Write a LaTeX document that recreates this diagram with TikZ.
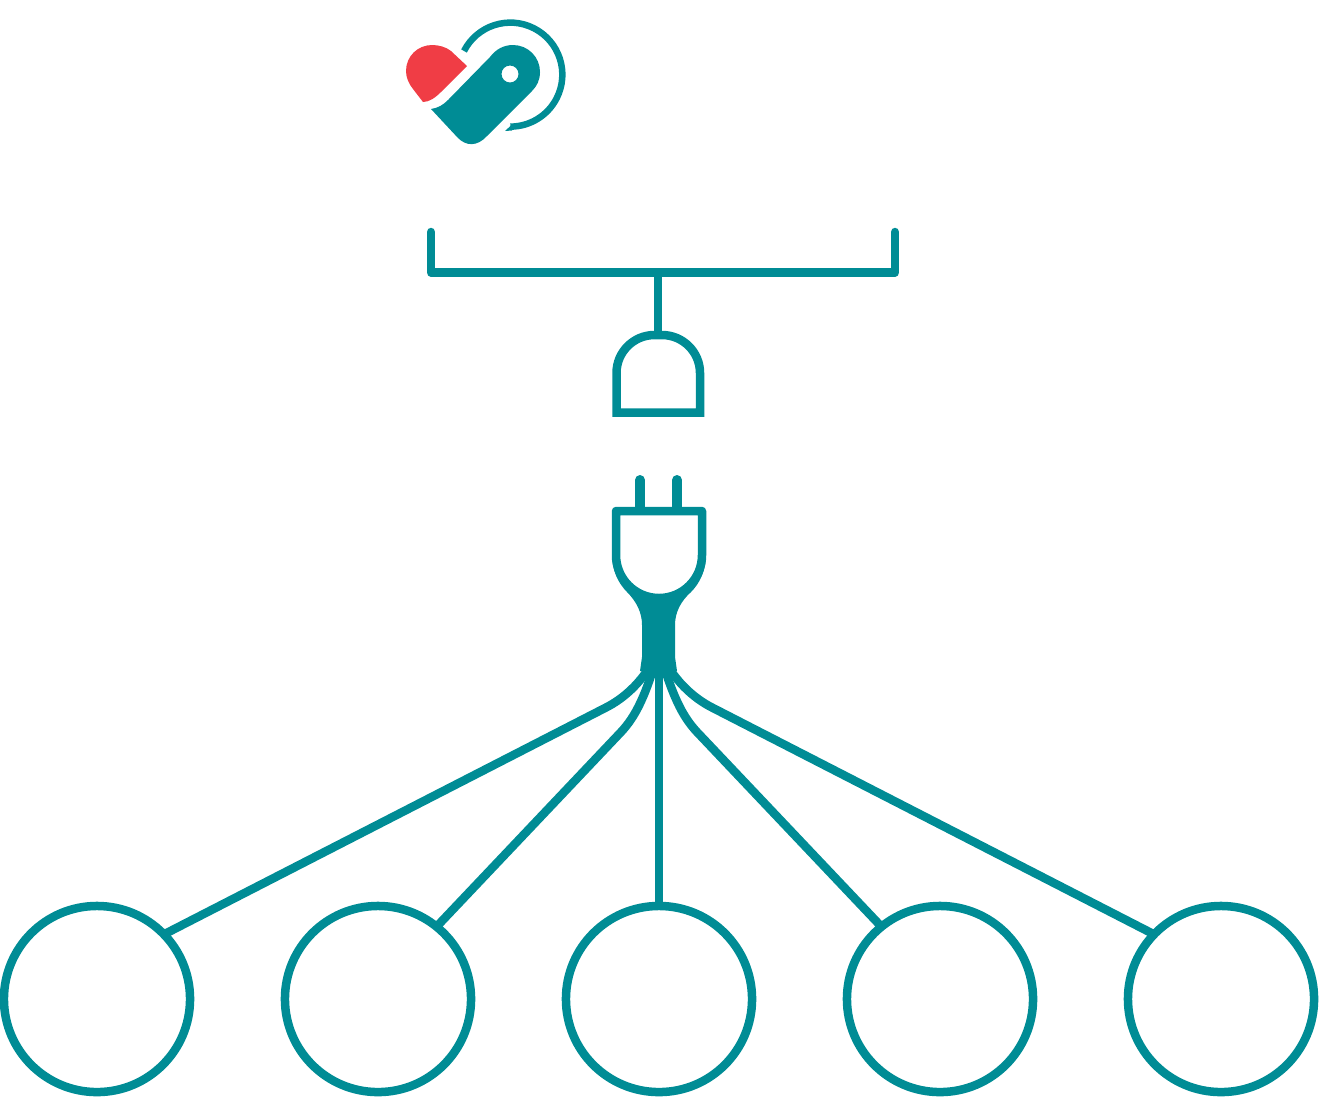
\documentclass[tikz,border=0pt]{standalone}
\definecolor{tealline}{HTML}{008C95}
\definecolor{heartred}{HTML}{F03D45}
\tikzset{
  outline/.style={line width=0.085cm, color=tealline, line join=round},
  cable/.style={line width=0.085cm, color=tealline},
  load/.style={circle, draw=tealline, line width=0.085cm, minimum size=1.86cm, inner sep=0pt, outer sep=0pt}
}
\begin{document}
\begin{tikzpicture}[x=0.01cm, y=-0.01cm]
        \useasboundingbox (0,0) rectangle (1319,1096);

        % Logo heart
        \fill[heartred] (467,66) -- (451,51) .. controls (446,47) and (439,45) .. (432,45)
          .. controls (418,45) and (406,56) .. (406,71)
          .. controls (406,78) and (409,84) .. (413,89)
          -- (423,102) .. controls (429,102) and (435,98) .. (441,92) -- cycle;

        % Logo tag
        \fill[tealline, even odd rule] (431,109) .. controls (438,108) and (443,105) .. (448,100)
          -- (490,57) .. controls (496,49) and (504,45) .. (513,45)
          .. controls (528,45) and (540,57) .. (540,72)
          .. controls (540,80) and (537,86) .. (532,91)
          -- (487,136) .. controls (477,147) and (466,146) .. (458,138) -- cycle
          (510,74) circle[radius=8.5];

        % Logo ring
        \draw[line width=0.065cm, color=tealline] (464,51)
          arc[start angle=207, end angle=450, radius=52];
        \fill[tealline] (512,124.5) -- (505,131) -- (512,130.5) -- cycle;

        % Bar and socket
        \coordinate (barleft) at (431,232);
        \coordinate (barright) at (895,232);
        \coordinate (barmid) at (658,272.5);
        \coordinate (sockettop) at (658,335);
        \draw[outline, line cap=round] (barleft) -- (431,272.5) -- (895,272.5) -- (barright);
        \draw[outline] (barmid) -- (sockettop);
        \draw[outline, line join=miter] (616.5,412.5) [rounded corners=0.38cm] -- (616.5,335) -- (700,335)
          [sharp corners] -- (700,412.5) -- cycle;

        % Prongs
        \draw[line width=0.1cm, color=tealline, line cap=round] (640,480) -- (640,510);
        \draw[line width=0.1cm, color=tealline, line cap=round] (677,480) -- (677,510);

        % Plug neck
        \fill[tealline] (612,555) .. controls (612,570) and (618,583) .. (627,592)
          .. controls (636,601) and (642,612) .. (642,625)
          -- (642,657) -- (640,671) -- (655,673) -- (663,673) -- (677,671) -- (675,657)
          -- (675,625) .. controls (675,612) and (681,601) .. (691,592)
          .. controls (700,583) and (706,570) .. (706,555) -- cycle;

        % Plug head
        \filldraw[
          outline,
          fill=white
        ] (616,511) -- (702,511) -- (702,555)
          arc[start angle=0, end angle=180, radius=43] -- cycle;

        % Loads
        \node[load] (loada) at (97,999) {};
        \node[load] (loadb) at (378,999) {};
        \node[load] (loadc) at (659,999) {};
        \node[load] (loadd) at (940,999) {};
        \node[load] (loade) at (1221,999) {};

        % Cables
        \coordinate (root) at (659,650);
        \draw[cable] (loada.44) -- (605,708) .. controls (625,698) and (645,680) .. (root);
        \draw[cable] (loadb.51) -- (621,732) .. controls (636,716) and (646,695) .. (root);
        \draw[cable] (loadc.north) -- (root);
        \draw[cable] (loadd.129) -- (697,732) .. controls (682,716) and (672,695) .. (root);
        \draw[cable] (loade.136) -- (713,708) .. controls (693,698) and (673,680) .. (root);
\end{tikzpicture}
\end{document}
